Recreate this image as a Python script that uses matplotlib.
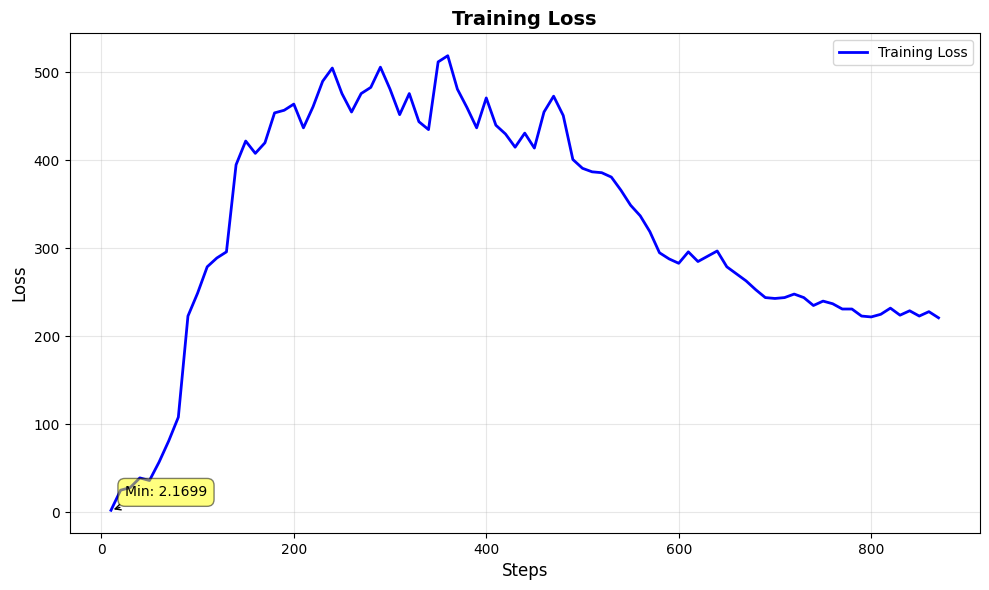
import matplotlib
matplotlib.use('Agg')
import matplotlib.pyplot as plt

steps = list(range(10, 880, 10))
loss = [2.1699, 25, 28, 39, 36, 57, 81, 108, 223, 249,
        279, 289, 296, 395, 422, 408, 420, 454, 457, 464,
        437, 461, 490, 505, 476, 455, 476, 483, 506, 481,
        452, 476, 444, 435, 512, 519, 481, 460, 437, 471,
        440, 430, 415, 431, 414, 455, 473, 451, 401, 391,
        387, 386, 381, 366, 349, 337, 319, 295, 288, 283,
        296, 285, 291, 297, 279, 271, 263, 253, 244, 243,
        244, 248, 244, 235, 240, 237, 231, 231, 223, 222,
        225, 232, 224, 229, 223, 228, 221]

fig, ax = plt.subplots(figsize=(9.89, 5.9), dpi=100)
ax.plot(steps, loss, color='blue', linewidth=2, label='Training Loss')
ax.set_xlabel('Steps', fontsize=12)
ax.set_ylabel('Loss', fontsize=12)
ax.set_title('Training Loss', fontsize=14, fontweight='bold')
ax.legend()
ax.grid(True, alpha=0.3)

# mark the lowest loss
min_loss = min(loss)
min_step = steps[loss.index(min_loss)]
ax.annotate(f'Min: {min_loss:.4f}', xy=(min_step, min_loss), xytext=(10, 10),
            textcoords='offset points',
            bbox=dict(boxstyle='round,pad=0.5', fc='yellow', alpha=0.5),
            arrowprops=dict(arrowstyle='->', connectionstyle='arc3,rad=0'))

fig.subplots_adjust(left=69.6/989, right=979.9/989, top=1-33/590, bottom=1-533/590)
plt.savefig('out.png', dpi=100)
